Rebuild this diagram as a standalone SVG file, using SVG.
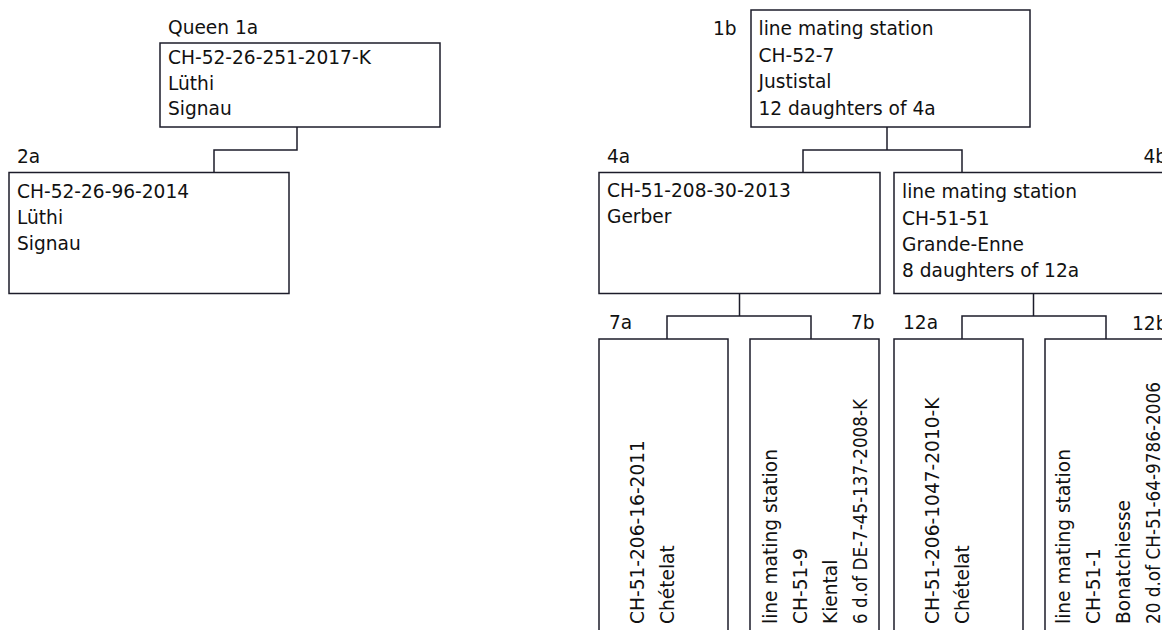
<svg xmlns="http://www.w3.org/2000/svg" width="1162" height="630" viewBox="0 0 1162 630">
<style>
.box{fill:#ffffff;stroke:#1c1c2a;stroke-width:1.5}
.con{fill:none;stroke:#1c1c2a;stroke-width:1.5}
text{font-family:"DejaVu Sans","Liberation Sans",sans-serif;font-size:18.6px;fill:#111111}
</style>
<rect width="1162" height="630" fill="#ffffff"/>
<g id="connectors">
<path class="con" d="M297,127 V150 H214 V172.5"/>
<path class="con" d="M887,127 V150 M803,172.5 V150 H962 V172.5"/>
<path class="con" d="M739.5,293 V316 M667,339 V316 H811 V339"/>
<path class="con" d="M1033.5,293.5 V316 M962,339 V316 H1106 V339"/>
</g>
<g id="node-1a">
<rect class="box" x="160" y="43" width="280" height="84"/>
<text x="168" y="34">Queen 1a</text>
<text x="168" y="63.5">CH-52-26-251-2017-K</text>
<text x="168" y="89.5">Lüthi</text>
<text x="168" y="115">Signau</text>
</g>
<g id="node-2a">
<rect class="box" x="9" y="172.5" width="280" height="121"/>
<text x="17" y="163.3">2a</text>
<text x="17" y="198.3">CH-52-26-96-2014</text>
<text x="17" y="224.3">Lüthi</text>
<text x="17" y="250">Signau</text>
</g>
<g id="node-1b">
<rect class="box" x="751" y="10" width="279" height="117"/>
<text x="713" y="35">1b</text>
<text x="758.5" y="35">line mating station</text>
<text x="758.5" y="61.5">CH-52-7</text>
<text x="758.5" y="88">Justistal</text>
<text x="758.5" y="114.5">12 daughters of 4a</text>
</g>
<g id="node-4a">
<rect class="box" x="599" y="172.5" width="281" height="121"/>
<text x="607" y="162.5">4a</text>
<text x="607" y="197">CH-51-208-30-2013</text>
<text x="607" y="223">Gerber</text>
</g>
<g id="node-4b">
<rect class="box" x="894" y="172.5" width="281" height="121"/>
<text x="1143.5" y="162.5">4b</text>
<text x="902" y="198">line mating station</text>
<text x="902" y="224.5">CH-51-51</text>
<text x="902" y="251">Grande-Enne</text>
<text x="902" y="277">8 daughters of 12a</text>
</g>
<g id="node-7a">
<rect class="box" x="599" y="339" width="129" height="300"/>
<text x="609" y="329">7a</text>
<text transform="translate(643.5,624) rotate(-90)">CH-51-206-16-2011</text>
<text transform="translate(673.5,624) rotate(-90)">Chételat</text>
</g>
<g id="node-7b">
<rect class="box" x="750" y="339" width="129" height="300"/>
<text x="851" y="329">7b</text>
<text transform="translate(776.5,624) rotate(-90)">line mating station</text>
<text transform="translate(806.5,624) rotate(-90)">CH-51-9</text>
<text transform="translate(836.5,624) rotate(-90)">Kiental</text>
<text transform="translate(866.5,624) rotate(-90)" textLength="225" lengthAdjust="spacingAndGlyphs">6 d.of DE-7-45-137-2008-K</text>
</g>
<g id="node-12a">
<rect class="box" x="894" y="339" width="129" height="300"/>
<text x="903" y="329">12a</text>
<text transform="translate(938.5,624) rotate(-90)">CH-51-206-1047-2010-K</text>
<text transform="translate(968.5,624) rotate(-90)">Chételat</text>
</g>
<g id="node-12b">
<rect class="box" x="1045" y="339" width="129" height="300"/>
<text x="1132" y="330">12b</text>
<text transform="translate(1070,624) rotate(-90)">line mating station</text>
<text transform="translate(1100,624) rotate(-90)">CH-51-1</text>
<text transform="translate(1130,624) rotate(-90)">Bonatchiesse</text>
<text transform="translate(1160,624) rotate(-90)" textLength="242" lengthAdjust="spacingAndGlyphs">20 d.of CH-51-64-9786-2006</text>
</g>
</svg>
